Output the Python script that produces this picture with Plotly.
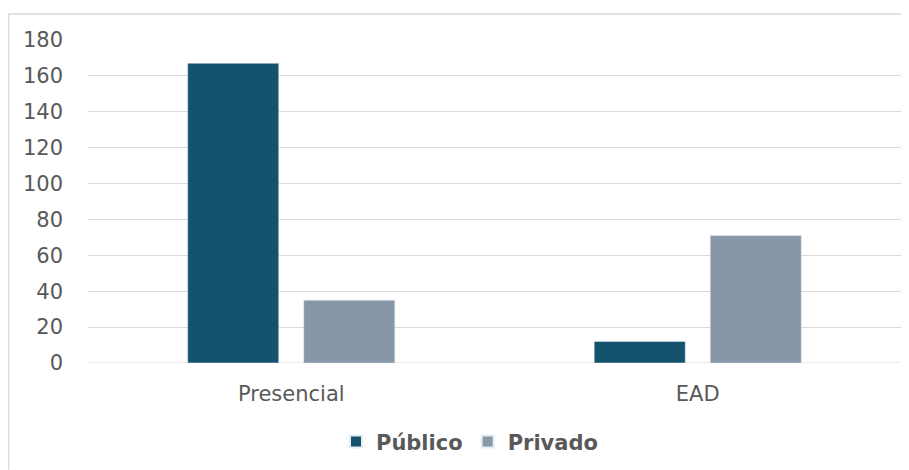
import plotly.graph_objects as go

categories = ["Presencial", "EAD"]
publico = [167, 12]
privado = [35, 71]
y_ticks = [0, 20, 40, 60, 80, 100, 120, 140, 160, 180]

# page body has an 8px margin, so the figure is placed at (8, 8)
OFF = 8
W, H = 909 - OFF, 470 - OFF
L, R, T, B = 80, 8, 31.5, 107
pw, ph = W - L - R, H - T - B

def px_x(x):
    return (x - OFF - L) / pw

def px_y(y):
    return (H - B - (y - OFF)) / ph

font_family = "DejaVu Sans, sans-serif"
txt = "#595959"

fig = go.Figure()
fig.add_trace(go.Bar(name="Público", x=categories, y=publico, marker_color="#15526E"))
fig.add_trace(go.Bar(name="Privado", x=categories, y=privado, marker_color="#8797A7"))

fig.update_layout(
    width=W, height=H,
    margin=dict(l=L, r=R, t=T, b=B),
    paper_bgcolor="white", plot_bgcolor="white",
    barmode="group", bargap=0.429, bargroupgap=0.2155,
    font=dict(family=font_family, size=21, color=txt),
    showlegend=True,
    legend=dict(orientation="h", x=px_x(336), xanchor="left", y=px_y(442), yanchor="middle",
                font=dict(size=21, color=txt, family=font_family, weight="bold"),
                itemsizing="constant", itemwidth=30, traceorder="normal"),
    xaxis=dict(showgrid=False, showline=False, ticks="", tickfont=dict(size=21, color=txt),
               ticklabelstandoff=16),
    yaxis=dict(range=[0, 180], tickvals=y_ticks, showgrid=True, gridcolor="#D9D9D9", gridwidth=1,
               zeroline=False, showline=False, ticks="", tickfont=dict(size=21, color=txt),
               ticklabelstandoff=24),
    shapes=[
        dict(type="line", xref="paper", yref="paper",
             x0=px_x(8.5), x1=px_x(909), y0=px_y(13.5), y1=px_y(13.5),
             line=dict(color="#D9D9D9", width=1.5), layer="below"),
        dict(type="line", xref="paper", yref="paper",
             x0=px_x(8.5), x1=px_x(8.5), y0=px_y(13.5), y1=px_y(470),
             line=dict(color="#D9D9D9", width=1.5), layer="below"),
        dict(type="line", xref="paper", yref="y", x0=0, x1=1, y0=0, y1=0,
             line=dict(color="#D9D9D9", width=1), layer="below"),
    ],
)

fig.write_html("out.html")
